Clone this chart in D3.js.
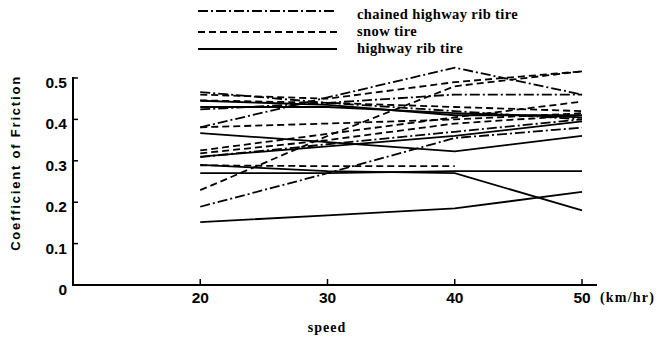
<!DOCTYPE html>
<html>
<head>
<meta charset="utf-8">
<script src="https://cdn.jsdelivr.net/npm/d3@7"></script>
<style>
  body { margin: 0; background: #fff; }
  svg { display: block; }
</style>
</head>
<body>
<div id="chart"></div>
<script>
// speeds (km/hr) at which friction was measured
const speeds = [20, 30, 40, 50];
const yTicks = [0, 0.1, 0.2, 0.3, 0.4, 0.5];

// chained highway rib tire runs
const chained = [
    [0.381, 0.453, 0.525, 0.460],
    [0.189, 0.270, 0.355, 0.380],
    [0.424, 0.440, 0.460, 0.460],
    [0.309, 0.340, 0.370, 0.400],
    [0.466, 0.440, 0.420, 0.400]
];

// snow tire runs (null = not measured)
const snow = [
    [0.460, 0.450, 0.490, 0.516],
    [0.325, 0.365, 0.405, 0.443],
    [0.381, 0.390, 0.400, 0.415],
    [0.318, 0.350, 0.390, 0.410],
    [0.289, 0.287, 0.287, null],
    [0.229, 0.360, 0.480, 0.516],
    [0.446, 0.440, 0.430, 0.420]
];

// highway rib tire runs
const highway = [
    [0.152, 0.168, 0.185, 0.225],
    [0.270, 0.270, 0.275, 0.275],
    [0.290, 0.275, 0.270, 0.180],
    [0.367, 0.345, 0.323, 0.360],
    [0.310, 0.335, 0.360, 0.395],
    [0.445, 0.435, 0.410, 0.410],
    [0.430, 0.430, 0.415, 0.405]
];

const legendNames = ["chained highway rib tire", "snow tire", "highway rib tire"];

function init() {
    const W = 664, H = 341;
    const svg = d3.select("#chart").append("svg")
        .attr("width", W).attr("height", H);

    const x = d3.scaleLinear().domain([10, 50]).range([73, 582]);
    const y = d3.scaleLinear().domain([0, 0.5]).range([285, 78]);

    const dashes = ["10,3,2,3", "7,4", null];
    const groups = [chained, snow, highway];

    const line = d3.line()
        .defined(d => d[1] != null)
        .x(d => x(d[0]))
        .y(d => y(d[1]));

    // data lines
    groups.forEach((runs, gi) => {
        svg.append("g").selectAll("path")
            .data(runs)
            .enter()
            .append("path")
            .attr("d", r => line(r.map((v, i) => [speeds[i], v])))
            .attr("fill", "none")
            .attr("stroke", "#000")
            .attr("stroke-width", 1.8)
            .attr("stroke-dasharray", dashes[gi]);
    });

    // y axis
    svg.append("line")
        .attr("x1", x(10)).attr("x2", x(10))
        .attr("y1", y(0.5) - 1).attr("y2", y(0) + 1)
        .attr("stroke", "#000").attr("stroke-width", 2);
    svg.append("g").selectAll("line")
        .data(yTicks.slice(1))
        .enter().append("line")
        .attr("x1", x(10)).attr("x2", x(10) + 5)
        .attr("y1", d => y(d)).attr("y2", d => y(d))
        .attr("stroke", "#000").attr("stroke-width", 1.5);
    svg.append("g").selectAll("text")
        .data(yTicks)
        .enter().append("text")
        .attr("x", 67)
        .attr("y", d => y(d) + 10)
        .attr("text-anchor", "end")
        .style("font-family", "Liberation Sans, Arial, sans-serif")
        .style("font-weight", "bold")
        .style("font-size", "15.5px")
        .text(d => d === 0 ? "0" : d.toFixed(1));

    // x axis
    svg.append("line")
        .attr("x1", x(10)).attr("x2", 597)
        .attr("y1", y(0)).attr("y2", y(0))
        .attr("stroke", "#000").attr("stroke-width", 2);
    svg.append("g").selectAll("line")
        .data(speeds)
        .enter().append("line")
        .attr("x1", d => x(d)).attr("x2", d => x(d))
        .attr("y1", y(0)).attr("y2", y(0) - 6)
        .attr("stroke", "#000").attr("stroke-width", 1.5);
    svg.append("g").selectAll("text")
        .data(speeds)
        .enter().append("text")
        .attr("x", d => x(d))
        .attr("y", 303)
        .attr("text-anchor", "middle")
        .style("font-family", "Liberation Sans, Arial, sans-serif")
        .style("font-weight", "bold")
        .style("font-size", "15.5px")
        .text(d => d);

    svg.append("text")
        .attr("x", 600).attr("y", 302)
        .style("font-family", "Liberation Serif, serif")
        .style("font-weight", "bold")
        .style("font-size", "14px")
        .style("letter-spacing", "1.2px")
        .text("(km/hr)");

    svg.append("text")
        .attr("x", 327).attr("y", 332)
        .attr("text-anchor", "middle")
        .style("font-family", "Liberation Serif, serif")
        .style("font-weight", "bold")
        .style("font-size", "14px")
        .style("letter-spacing", "1px")
        .text("speed");

    svg.append("text")
        .attr("transform", "translate(20,163) rotate(-90)")
        .attr("text-anchor", "middle")
        .style("font-family", "Liberation Sans, Arial, sans-serif")
        .style("font-weight", "bold")
        .style("font-size", "13px")
        .style("letter-spacing", "1.8px")
        .text("Coefficient of Friction");

    // legend
    const legY = [11, 32, 49];
    const legend = svg.append("g");
    legendNames.forEach((name, i) => {
        legend.append("line")
            .attr("x1", 198).attr("x2", 337)
            .attr("y1", legY[i]).attr("y2", legY[i])
            .attr("stroke", "#000").attr("stroke-width", 1.8)
            .attr("stroke-dasharray", dashes[i]);
        legend.append("text")
            .attr("x", 357).attr("y", [19, 36, 53][i])
            .style("font-family", "Liberation Serif, serif")
            .style("font-weight", "bold")
            .style("font-size", "14.5px")
            .style("letter-spacing", "0.4px")
            .text(name);
    });
}

window.onload = init;
</script>
</body>
</html>
